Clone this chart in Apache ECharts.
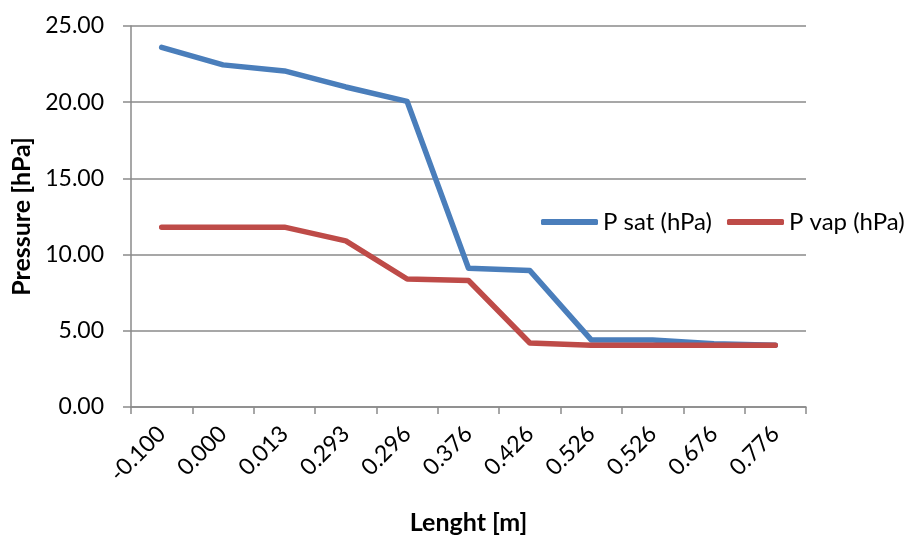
<!DOCTYPE html>
<html>
<head>
<meta charset="utf-8">
<script src="https://cdn.jsdelivr.net/npm/echarts@6/dist/echarts.min.js"></script>
<style>
  html, body { margin: 0; padding: 0; background: #fff; }
  #chart { width: 912px; height: 537px; }
</style>
</head>
<body>
<div id="chart"></div>
<script>
// Position along the sample (m)
const lengths = ['-0.100', '0.000', '0.013', '0.293', '0.296', '0.376', '0.426', '0.526', '0.526', '0.676', '0.776'];
// Saturation pressure (hPa)
const pSat = [23.6, 22.45, 22.05, 21.0, 20.05, 9.1, 8.95, 4.4, 4.4, 4.15, 4.05];
// Vapour pressure (hPa)
const pVap = [11.8, 11.8, 11.8, 10.9, 8.4, 8.3, 4.2, 4.05, 4.05, 4.05, 4.05];
// Y-axis range
const yMin = 0, yMax = 25, yStep = 5;

const font = 'Lato, "Open Sans", sans-serif';
const axisGray = '#8a8a8a';
const blue = '#4a7ebb';
const red = '#be4b48';

const chart = echarts.init(document.getElementById('chart'), null, { renderer: 'canvas' });
chart.setOption({
  animation: false,
  textStyle: { fontFamily: font },
  grid: {
    left: 131, right: 106, top: 26, bottom: 130,
    containLabel: false,
    outerBoundsMode: 'none'
  },
  legend: {
    left: 541, top: 210, width: 400,
    orient: 'horizontal',
    padding: 0,
    icon: 'roundRect',
    itemWidth: 57, itemHeight: 6, itemGap: 15,
    textStyle: { fontFamily: font, fontSize: 24, color: '#000' },
    data: [
      { name: 'P sat (hPa)', itemStyle: { color: blue } },
      { name: 'P vap (hPa)', itemStyle: { color: red } }
    ]
  },
  xAxis: {
    type: 'category',
    data: lengths,
    boundaryGap: true,
    name: 'Lenght [m]',
    nameLocation: 'middle',
    nameGap: 103,
    nameTextStyle: { fontFamily: font, fontSize: 25, fontWeight: 'bold', color: '#000' },
    axisLine: { lineStyle: { color: axisGray, width: 1.5 } },
    axisTick: { show: true, length: 7, lineStyle: { color: axisGray, width: 1.5 } },
    axisLabel: { rotate: 45, fontSize: 23, color: '#000', margin: 23, interval: 0 },
    splitLine: { show: false }
  },
  yAxis: {
    type: 'value',
    min: yMin, max: yMax, interval: yStep,
    name: 'Pressure [hPa]',
    nameLocation: 'middle',
    nameGap: 95,
    nameRotate: 90,
    nameTextStyle: { fontFamily: font, fontSize: 25, fontWeight: 'bold', color: '#000' },
    axisLine: { show: true, lineStyle: { color: axisGray, width: 1.5 } },
    axisTick: { show: true, length: 8, lineStyle: { color: axisGray, width: 1.5 } },
    axisLabel: { fontSize: 23, color: '#000', margin: 27, formatter: v => v.toFixed(2) },
    splitLine: { lineStyle: { color: axisGray, width: 1.5 } }
  },
  series: [
    {
      name: 'P sat (hPa)', type: 'line', data: pSat, symbol: 'none',
      lineStyle: { color: blue, width: 5.5, cap: 'round', join: 'round' },
      itemStyle: { color: blue }
    },
    {
      name: 'P vap (hPa)', type: 'line', data: pVap, symbol: 'none',
      lineStyle: { color: red, width: 5.5, cap: 'round', join: 'round' },
      itemStyle: { color: red }
    }
  ]
});
</script>
</body>
</html>
